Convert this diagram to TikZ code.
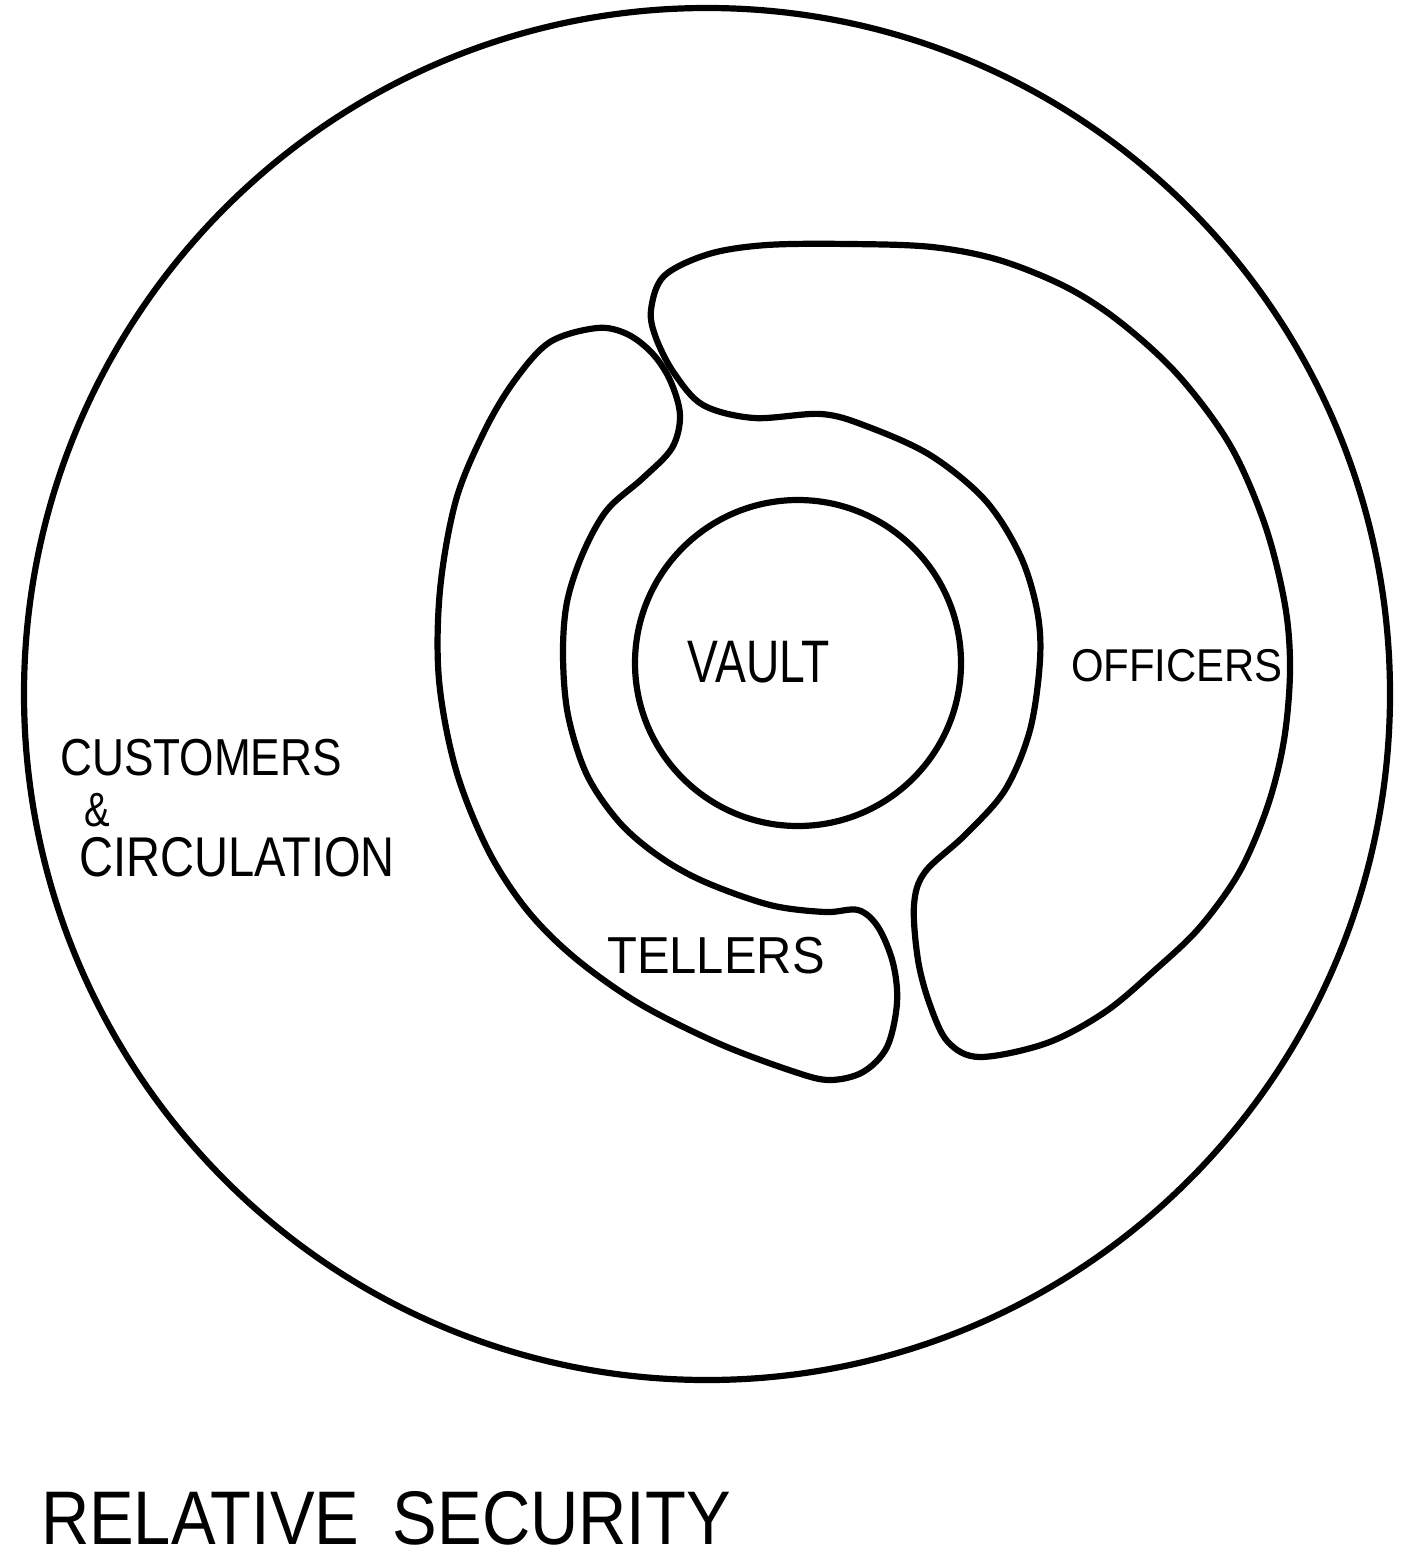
\documentclass[tikz,border=0pt]{standalone}
\usepackage{fontspec}
\setmainfont{Liberation Sans}
\newcommand{\hw}[3]{\scalebox{#1}[1]{\fontsize{#2}{#2}\selectfont #3}}
\begin{document}
\begin{tikzpicture}[x=0.5pt,y=-0.5pt,
  ink/.style={draw=black, line width=3.1pt, line join=round, line cap=round},
  lbl/.style={inner sep=0pt, text=black}]
\useasboundingbox[fill=white] (0,0) rectangle (1418,1563);
% outer boundary
\draw[ink] (707,694) ellipse [x radius=683, y radius=686];
% officers
\draw[ink] plot[smooth cycle, tension=0.55] coordinates {
 (651,310) (664,276) (709,254) (767,245) (850,244) (932,247) (999,260)
 (1066,287) (1120,322) (1178,375) (1230,445) (1265,525) (1285,605)
 (1290,670) (1284,740) (1268,805) (1240,871) (1200,927) (1155,970)
 (1105,1012) (1047,1043) (980,1057) (948,1042) (930,1005) (918,960)
 (914,905) (925,872) (965,835) (1005,790) (1030,730) (1040,660)
 (1037,610) (1020,555) (985,500) (930,455) (866,426) (821,414)
 (754,418) (703,405) (674,373) (656,338)};
% tellers
\draw[ink] plot[smooth cycle, tension=0.55] coordinates {
 (550,342) (597,328) (627,334) (652,353) (670,380) (680,415) (672,448)
 (643,478) (607,510) (583,553) (567,602) (563,655) (568,715) (587,775)
 (620,823) (660,857) (705,882) (770,905) (825,912) (858,910) (878,927)
 (893,963) (897,1003) (887,1047) (863,1072) (830,1080) (795,1072)
 (720,1044) (640,1004) (575,958) (527,910) (488,850) (456,770) (439,680)
 (440,590) (456,500) (485,430) (515,380)};
% vault
\draw[ink] (798,663) circle [radius=163];
% labels
\node[lbl] (vault) at (759,662) {\hw{0.77}{30pt}{VAULT}};
\node[lbl] (officers) at (1177,666) {\hw{0.91}{23pt}{OFFICERS}};
\node[lbl] (customers) at (201,758) {\hw{0.85}{26pt}{CUSTOMERS}};
\node[lbl] (amp) at (97,810) {\hw{0.8}{24pt}{\&}};
\node[lbl] (circulation) at (237,857) {\hw{0.84}{28pt}{CIRCULATION}};
\node[lbl] (tellers) at (716,956) {\hw{0.94}{26pt}{TELLERS}};
\node[lbl] (title) at (386,1518) {\hw{0.88}{38pt}{RELATIVE\hspace{0.5em}SECURITY}};
\end{tikzpicture}
\end{document}
